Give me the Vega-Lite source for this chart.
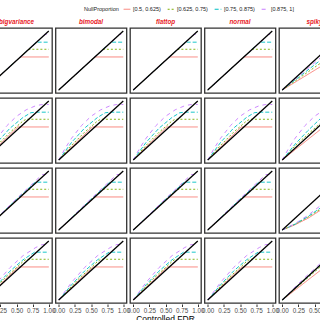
{
"$schema": "https://vega.github.io/schema/vega-lite/v6.json",
"padding": {"left": -22, "top": 5, "right": 0, "bottom": 2},
"title": {"text": "Controlled FDR", "orient": "bottom", "anchor": "middle", "fontSize": 8.5, "fontWeight": "normal", "color": "#000000", "offset": 1},
"data": {"values": [
{"m":"bigvariance","r":1,"s":"a","x":0,"y":0},{"m":"bigvariance","r":1,"s":"a","x":0.56,"y":0.56},{"m":"bigvariance","r":1,"s":"a","x":1,"y":0.56},
{"m":"bigvariance","r":1,"s":"b","x":0,"y":0},{"m":"bigvariance","r":1,"s":"b","x":0.69,"y":0.69},{"m":"bigvariance","r":1,"s":"b","x":1,"y":0.69},
{"m":"bigvariance","r":1,"s":"c","x":0,"y":0},{"m":"bigvariance","r":1,"s":"c","x":0.81,"y":0.81},{"m":"bigvariance","r":1,"s":"c","x":1,"y":0.81},
{"m":"bigvariance","r":1,"s":"d","x":0,"y":0},{"m":"bigvariance","r":1,"s":"d","x":0.94,"y":0.94},{"m":"bigvariance","r":1,"s":"d","x":1,"y":0.94},
{"m":"bigvariance","r":1,"s":"k","x":0,"y":0},{"m":"bigvariance","r":1,"s":"k","x":1,"y":1},
{"m":"bigvariance","r":2,"s":"a","x":0,"y":0},{"m":"bigvariance","r":2,"s":"a","x":0.25,"y":0.275},{"m":"bigvariance","r":2,"s":"a","x":0.52,"y":0.56},{"m":"bigvariance","r":2,"s":"a","x":1,"y":0.56},
{"m":"bigvariance","r":2,"s":"b","x":0,"y":0},{"m":"bigvariance","r":2,"s":"b","x":0.2,"y":0.25},{"m":"bigvariance","r":2,"s":"b","x":0.4,"y":0.47},{"m":"bigvariance","r":2,"s":"b","x":0.6,"y":0.66},{"m":"bigvariance","r":2,"s":"b","x":0.65,"y":0.69},{"m":"bigvariance","r":2,"s":"b","x":1,"y":0.69},
{"m":"bigvariance","r":2,"s":"c","x":0,"y":0},{"m":"bigvariance","r":2,"s":"c","x":0.2,"y":0.3},{"m":"bigvariance","r":2,"s":"c","x":0.4,"y":0.54},{"m":"bigvariance","r":2,"s":"c","x":0.6,"y":0.72},{"m":"bigvariance","r":2,"s":"c","x":0.72,"y":0.8},{"m":"bigvariance","r":2,"s":"c","x":0.8,"y":0.81},{"m":"bigvariance","r":2,"s":"c","x":1,"y":0.81},
{"m":"bigvariance","r":2,"s":"d","x":0,"y":0},{"m":"bigvariance","r":2,"s":"d","x":0.1,"y":0.2},{"m":"bigvariance","r":2,"s":"d","x":0.2,"y":0.37},{"m":"bigvariance","r":2,"s":"d","x":0.35,"y":0.58},{"m":"bigvariance","r":2,"s":"d","x":0.5,"y":0.74},{"m":"bigvariance","r":2,"s":"d","x":0.65,"y":0.85},{"m":"bigvariance","r":2,"s":"d","x":0.8,"y":0.92},{"m":"bigvariance","r":2,"s":"d","x":0.9,"y":0.94},{"m":"bigvariance","r":2,"s":"d","x":1,"y":0.94},
{"m":"bigvariance","r":2,"s":"k","x":0,"y":0},{"m":"bigvariance","r":2,"s":"k","x":1,"y":1},
{"m":"bigvariance","r":3,"s":"a","x":0,"y":0},{"m":"bigvariance","r":3,"s":"a","x":0.5,"y":0.5},{"m":"bigvariance","r":3,"s":"a","x":0.56,"y":0.56},{"m":"bigvariance","r":3,"s":"a","x":1,"y":0.56},
{"m":"bigvariance","r":3,"s":"b","x":0,"y":0},{"m":"bigvariance","r":3,"s":"b","x":0.5,"y":0.51},{"m":"bigvariance","r":3,"s":"b","x":0.68,"y":0.69},{"m":"bigvariance","r":3,"s":"b","x":1,"y":0.69},
{"m":"bigvariance","r":3,"s":"c","x":0,"y":0},{"m":"bigvariance","r":3,"s":"c","x":0.5,"y":0.52},{"m":"bigvariance","r":3,"s":"c","x":0.79,"y":0.81},{"m":"bigvariance","r":3,"s":"c","x":1,"y":0.81},
{"m":"bigvariance","r":3,"s":"d","x":0,"y":0},{"m":"bigvariance","r":3,"s":"d","x":0.5,"y":0.53},{"m":"bigvariance","r":3,"s":"d","x":0.9,"y":0.94},{"m":"bigvariance","r":3,"s":"d","x":1,"y":0.94},
{"m":"bigvariance","r":3,"s":"k","x":0,"y":0},{"m":"bigvariance","r":3,"s":"k","x":1,"y":1},
{"m":"bigvariance","r":4,"s":"a","x":0,"y":0},{"m":"bigvariance","r":4,"s":"a","x":0.3,"y":0.32},{"m":"bigvariance","r":4,"s":"a","x":0.53,"y":0.56},{"m":"bigvariance","r":4,"s":"a","x":1,"y":0.56},
{"m":"bigvariance","r":4,"s":"b","x":0,"y":0},{"m":"bigvariance","r":4,"s":"b","x":0.3,"y":0.35},{"m":"bigvariance","r":4,"s":"b","x":0.6,"y":0.65},{"m":"bigvariance","r":4,"s":"b","x":0.65,"y":0.69},{"m":"bigvariance","r":4,"s":"b","x":1,"y":0.69},
{"m":"bigvariance","r":4,"s":"c","x":0,"y":0},{"m":"bigvariance","r":4,"s":"c","x":0.2,"y":0.26},{"m":"bigvariance","r":4,"s":"c","x":0.4,"y":0.49},{"m":"bigvariance","r":4,"s":"c","x":0.6,"y":0.68},{"m":"bigvariance","r":4,"s":"c","x":0.78,"y":0.81},{"m":"bigvariance","r":4,"s":"c","x":1,"y":0.81},
{"m":"bigvariance","r":4,"s":"d","x":0,"y":0},{"m":"bigvariance","r":4,"s":"d","x":0.2,"y":0.3},{"m":"bigvariance","r":4,"s":"d","x":0.4,"y":0.55},{"m":"bigvariance","r":4,"s":"d","x":0.6,"y":0.75},{"m":"bigvariance","r":4,"s":"d","x":0.8,"y":0.89},{"m":"bigvariance","r":4,"s":"d","x":0.9,"y":0.94},{"m":"bigvariance","r":4,"s":"d","x":1,"y":0.94},
{"m":"bigvariance","r":4,"s":"k","x":0,"y":0},{"m":"bigvariance","r":4,"s":"k","x":1,"y":1},
{"m":"bimodal","r":1,"s":"a","x":0,"y":0},{"m":"bimodal","r":1,"s":"a","x":0.56,"y":0.56},{"m":"bimodal","r":1,"s":"a","x":1,"y":0.56},
{"m":"bimodal","r":1,"s":"b","x":0,"y":0},{"m":"bimodal","r":1,"s":"b","x":0.69,"y":0.69},{"m":"bimodal","r":1,"s":"b","x":1,"y":0.69},
{"m":"bimodal","r":1,"s":"c","x":0,"y":0},{"m":"bimodal","r":1,"s":"c","x":0.81,"y":0.81},{"m":"bimodal","r":1,"s":"c","x":1,"y":0.81},
{"m":"bimodal","r":1,"s":"d","x":0,"y":0},{"m":"bimodal","r":1,"s":"d","x":0.94,"y":0.94},{"m":"bimodal","r":1,"s":"d","x":1,"y":0.94},
{"m":"bimodal","r":1,"s":"k","x":0,"y":0},{"m":"bimodal","r":1,"s":"k","x":1,"y":1},
{"m":"bimodal","r":2,"s":"a","x":0,"y":0},{"m":"bimodal","r":2,"s":"a","x":0.25,"y":0.275},{"m":"bimodal","r":2,"s":"a","x":0.52,"y":0.56},{"m":"bimodal","r":2,"s":"a","x":1,"y":0.56},
{"m":"bimodal","r":2,"s":"b","x":0,"y":0},{"m":"bimodal","r":2,"s":"b","x":0.2,"y":0.25},{"m":"bimodal","r":2,"s":"b","x":0.4,"y":0.47},{"m":"bimodal","r":2,"s":"b","x":0.6,"y":0.66},{"m":"bimodal","r":2,"s":"b","x":0.65,"y":0.69},{"m":"bimodal","r":2,"s":"b","x":1,"y":0.69},
{"m":"bimodal","r":2,"s":"c","x":0,"y":0},{"m":"bimodal","r":2,"s":"c","x":0.2,"y":0.3},{"m":"bimodal","r":2,"s":"c","x":0.4,"y":0.54},{"m":"bimodal","r":2,"s":"c","x":0.6,"y":0.72},{"m":"bimodal","r":2,"s":"c","x":0.72,"y":0.8},{"m":"bimodal","r":2,"s":"c","x":0.8,"y":0.81},{"m":"bimodal","r":2,"s":"c","x":1,"y":0.81},
{"m":"bimodal","r":2,"s":"d","x":0,"y":0},{"m":"bimodal","r":2,"s":"d","x":0.1,"y":0.2},{"m":"bimodal","r":2,"s":"d","x":0.2,"y":0.37},{"m":"bimodal","r":2,"s":"d","x":0.35,"y":0.58},{"m":"bimodal","r":2,"s":"d","x":0.5,"y":0.74},{"m":"bimodal","r":2,"s":"d","x":0.65,"y":0.85},{"m":"bimodal","r":2,"s":"d","x":0.8,"y":0.92},{"m":"bimodal","r":2,"s":"d","x":0.9,"y":0.94},{"m":"bimodal","r":2,"s":"d","x":1,"y":0.94},
{"m":"bimodal","r":2,"s":"k","x":0,"y":0},{"m":"bimodal","r":2,"s":"k","x":1,"y":1},
{"m":"bimodal","r":3,"s":"a","x":0,"y":0},{"m":"bimodal","r":3,"s":"a","x":0.5,"y":0.5},{"m":"bimodal","r":3,"s":"a","x":0.56,"y":0.56},{"m":"bimodal","r":3,"s":"a","x":1,"y":0.56},
{"m":"bimodal","r":3,"s":"b","x":0,"y":0},{"m":"bimodal","r":3,"s":"b","x":0.5,"y":0.51},{"m":"bimodal","r":3,"s":"b","x":0.68,"y":0.69},{"m":"bimodal","r":3,"s":"b","x":1,"y":0.69},
{"m":"bimodal","r":3,"s":"c","x":0,"y":0},{"m":"bimodal","r":3,"s":"c","x":0.5,"y":0.52},{"m":"bimodal","r":3,"s":"c","x":0.79,"y":0.81},{"m":"bimodal","r":3,"s":"c","x":1,"y":0.81},
{"m":"bimodal","r":3,"s":"d","x":0,"y":0},{"m":"bimodal","r":3,"s":"d","x":0.5,"y":0.53},{"m":"bimodal","r":3,"s":"d","x":0.9,"y":0.94},{"m":"bimodal","r":3,"s":"d","x":1,"y":0.94},
{"m":"bimodal","r":3,"s":"k","x":0,"y":0},{"m":"bimodal","r":3,"s":"k","x":1,"y":1},
{"m":"bimodal","r":4,"s":"a","x":0,"y":0},{"m":"bimodal","r":4,"s":"a","x":0.3,"y":0.32},{"m":"bimodal","r":4,"s":"a","x":0.53,"y":0.56},{"m":"bimodal","r":4,"s":"a","x":1,"y":0.56},
{"m":"bimodal","r":4,"s":"b","x":0,"y":0},{"m":"bimodal","r":4,"s":"b","x":0.3,"y":0.35},{"m":"bimodal","r":4,"s":"b","x":0.6,"y":0.65},{"m":"bimodal","r":4,"s":"b","x":0.65,"y":0.69},{"m":"bimodal","r":4,"s":"b","x":1,"y":0.69},
{"m":"bimodal","r":4,"s":"c","x":0,"y":0},{"m":"bimodal","r":4,"s":"c","x":0.2,"y":0.26},{"m":"bimodal","r":4,"s":"c","x":0.4,"y":0.49},{"m":"bimodal","r":4,"s":"c","x":0.6,"y":0.68},{"m":"bimodal","r":4,"s":"c","x":0.78,"y":0.81},{"m":"bimodal","r":4,"s":"c","x":1,"y":0.81},
{"m":"bimodal","r":4,"s":"d","x":0,"y":0},{"m":"bimodal","r":4,"s":"d","x":0.2,"y":0.3},{"m":"bimodal","r":4,"s":"d","x":0.4,"y":0.55},{"m":"bimodal","r":4,"s":"d","x":0.6,"y":0.75},{"m":"bimodal","r":4,"s":"d","x":0.8,"y":0.89},{"m":"bimodal","r":4,"s":"d","x":0.9,"y":0.94},{"m":"bimodal","r":4,"s":"d","x":1,"y":0.94},
{"m":"bimodal","r":4,"s":"k","x":0,"y":0},{"m":"bimodal","r":4,"s":"k","x":1,"y":1},
{"m":"flattop","r":1,"s":"a","x":0,"y":0},{"m":"flattop","r":1,"s":"a","x":0.56,"y":0.56},{"m":"flattop","r":1,"s":"a","x":1,"y":0.56},
{"m":"flattop","r":1,"s":"b","x":0,"y":0},{"m":"flattop","r":1,"s":"b","x":0.69,"y":0.69},{"m":"flattop","r":1,"s":"b","x":1,"y":0.69},
{"m":"flattop","r":1,"s":"c","x":0,"y":0},{"m":"flattop","r":1,"s":"c","x":0.81,"y":0.81},{"m":"flattop","r":1,"s":"c","x":1,"y":0.81},
{"m":"flattop","r":1,"s":"d","x":0,"y":0},{"m":"flattop","r":1,"s":"d","x":0.94,"y":0.94},{"m":"flattop","r":1,"s":"d","x":1,"y":0.94},
{"m":"flattop","r":1,"s":"k","x":0,"y":0},{"m":"flattop","r":1,"s":"k","x":1,"y":1},
{"m":"flattop","r":2,"s":"a","x":0,"y":0},{"m":"flattop","r":2,"s":"a","x":0.25,"y":0.275},{"m":"flattop","r":2,"s":"a","x":0.52,"y":0.56},{"m":"flattop","r":2,"s":"a","x":1,"y":0.56},
{"m":"flattop","r":2,"s":"b","x":0,"y":0},{"m":"flattop","r":2,"s":"b","x":0.2,"y":0.25},{"m":"flattop","r":2,"s":"b","x":0.4,"y":0.47},{"m":"flattop","r":2,"s":"b","x":0.6,"y":0.66},{"m":"flattop","r":2,"s":"b","x":0.65,"y":0.69},{"m":"flattop","r":2,"s":"b","x":1,"y":0.69},
{"m":"flattop","r":2,"s":"c","x":0,"y":0},{"m":"flattop","r":2,"s":"c","x":0.2,"y":0.3},{"m":"flattop","r":2,"s":"c","x":0.4,"y":0.54},{"m":"flattop","r":2,"s":"c","x":0.6,"y":0.72},{"m":"flattop","r":2,"s":"c","x":0.72,"y":0.8},{"m":"flattop","r":2,"s":"c","x":0.8,"y":0.81},{"m":"flattop","r":2,"s":"c","x":1,"y":0.81},
{"m":"flattop","r":2,"s":"d","x":0,"y":0},{"m":"flattop","r":2,"s":"d","x":0.1,"y":0.2},{"m":"flattop","r":2,"s":"d","x":0.2,"y":0.37},{"m":"flattop","r":2,"s":"d","x":0.35,"y":0.58},{"m":"flattop","r":2,"s":"d","x":0.5,"y":0.74},{"m":"flattop","r":2,"s":"d","x":0.65,"y":0.85},{"m":"flattop","r":2,"s":"d","x":0.8,"y":0.92},{"m":"flattop","r":2,"s":"d","x":0.9,"y":0.94},{"m":"flattop","r":2,"s":"d","x":1,"y":0.94},
{"m":"flattop","r":2,"s":"k","x":0,"y":0},{"m":"flattop","r":2,"s":"k","x":1,"y":1},
{"m":"flattop","r":3,"s":"a","x":0,"y":0},{"m":"flattop","r":3,"s":"a","x":0.5,"y":0.5},{"m":"flattop","r":3,"s":"a","x":0.56,"y":0.56},{"m":"flattop","r":3,"s":"a","x":1,"y":0.56},
{"m":"flattop","r":3,"s":"b","x":0,"y":0},{"m":"flattop","r":3,"s":"b","x":0.5,"y":0.51},{"m":"flattop","r":3,"s":"b","x":0.68,"y":0.69},{"m":"flattop","r":3,"s":"b","x":1,"y":0.69},
{"m":"flattop","r":3,"s":"c","x":0,"y":0},{"m":"flattop","r":3,"s":"c","x":0.5,"y":0.52},{"m":"flattop","r":3,"s":"c","x":0.79,"y":0.81},{"m":"flattop","r":3,"s":"c","x":1,"y":0.81},
{"m":"flattop","r":3,"s":"d","x":0,"y":0},{"m":"flattop","r":3,"s":"d","x":0.5,"y":0.53},{"m":"flattop","r":3,"s":"d","x":0.9,"y":0.94},{"m":"flattop","r":3,"s":"d","x":1,"y":0.94},
{"m":"flattop","r":3,"s":"k","x":0,"y":0},{"m":"flattop","r":3,"s":"k","x":1,"y":1},
{"m":"flattop","r":4,"s":"a","x":0,"y":0},{"m":"flattop","r":4,"s":"a","x":0.3,"y":0.32},{"m":"flattop","r":4,"s":"a","x":0.53,"y":0.56},{"m":"flattop","r":4,"s":"a","x":1,"y":0.56},
{"m":"flattop","r":4,"s":"b","x":0,"y":0},{"m":"flattop","r":4,"s":"b","x":0.3,"y":0.35},{"m":"flattop","r":4,"s":"b","x":0.6,"y":0.65},{"m":"flattop","r":4,"s":"b","x":0.65,"y":0.69},{"m":"flattop","r":4,"s":"b","x":1,"y":0.69},
{"m":"flattop","r":4,"s":"c","x":0,"y":0},{"m":"flattop","r":4,"s":"c","x":0.2,"y":0.26},{"m":"flattop","r":4,"s":"c","x":0.4,"y":0.49},{"m":"flattop","r":4,"s":"c","x":0.6,"y":0.68},{"m":"flattop","r":4,"s":"c","x":0.78,"y":0.81},{"m":"flattop","r":4,"s":"c","x":1,"y":0.81},
{"m":"flattop","r":4,"s":"d","x":0,"y":0},{"m":"flattop","r":4,"s":"d","x":0.2,"y":0.3},{"m":"flattop","r":4,"s":"d","x":0.4,"y":0.55},{"m":"flattop","r":4,"s":"d","x":0.6,"y":0.75},{"m":"flattop","r":4,"s":"d","x":0.8,"y":0.89},{"m":"flattop","r":4,"s":"d","x":0.9,"y":0.94},{"m":"flattop","r":4,"s":"d","x":1,"y":0.94},
{"m":"flattop","r":4,"s":"k","x":0,"y":0},{"m":"flattop","r":4,"s":"k","x":1,"y":1},
{"m":"normal","r":1,"s":"a","x":0,"y":0},{"m":"normal","r":1,"s":"a","x":0.56,"y":0.56},{"m":"normal","r":1,"s":"a","x":1,"y":0.56},
{"m":"normal","r":1,"s":"b","x":0,"y":0},{"m":"normal","r":1,"s":"b","x":0.69,"y":0.69},{"m":"normal","r":1,"s":"b","x":1,"y":0.69},
{"m":"normal","r":1,"s":"c","x":0,"y":0},{"m":"normal","r":1,"s":"c","x":0.81,"y":0.81},{"m":"normal","r":1,"s":"c","x":1,"y":0.81},
{"m":"normal","r":1,"s":"d","x":0,"y":0},{"m":"normal","r":1,"s":"d","x":0.94,"y":0.94},{"m":"normal","r":1,"s":"d","x":1,"y":0.94},
{"m":"normal","r":1,"s":"k","x":0,"y":0},{"m":"normal","r":1,"s":"k","x":1,"y":1},
{"m":"normal","r":2,"s":"a","x":0,"y":0},{"m":"normal","r":2,"s":"a","x":0.25,"y":0.275},{"m":"normal","r":2,"s":"a","x":0.52,"y":0.56},{"m":"normal","r":2,"s":"a","x":1,"y":0.56},
{"m":"normal","r":2,"s":"b","x":0,"y":0},{"m":"normal","r":2,"s":"b","x":0.2,"y":0.25},{"m":"normal","r":2,"s":"b","x":0.4,"y":0.47},{"m":"normal","r":2,"s":"b","x":0.6,"y":0.66},{"m":"normal","r":2,"s":"b","x":0.65,"y":0.69},{"m":"normal","r":2,"s":"b","x":1,"y":0.69},
{"m":"normal","r":2,"s":"c","x":0,"y":0},{"m":"normal","r":2,"s":"c","x":0.2,"y":0.3},{"m":"normal","r":2,"s":"c","x":0.4,"y":0.54},{"m":"normal","r":2,"s":"c","x":0.6,"y":0.72},{"m":"normal","r":2,"s":"c","x":0.72,"y":0.8},{"m":"normal","r":2,"s":"c","x":0.8,"y":0.81},{"m":"normal","r":2,"s":"c","x":1,"y":0.81},
{"m":"normal","r":2,"s":"d","x":0,"y":0},{"m":"normal","r":2,"s":"d","x":0.1,"y":0.2},{"m":"normal","r":2,"s":"d","x":0.2,"y":0.37},{"m":"normal","r":2,"s":"d","x":0.35,"y":0.58},{"m":"normal","r":2,"s":"d","x":0.5,"y":0.74},{"m":"normal","r":2,"s":"d","x":0.65,"y":0.85},{"m":"normal","r":2,"s":"d","x":0.8,"y":0.92},{"m":"normal","r":2,"s":"d","x":0.9,"y":0.94},{"m":"normal","r":2,"s":"d","x":1,"y":0.94},
{"m":"normal","r":2,"s":"k","x":0,"y":0},{"m":"normal","r":2,"s":"k","x":1,"y":1},
{"m":"normal","r":3,"s":"a","x":0,"y":0},{"m":"normal","r":3,"s":"a","x":0.5,"y":0.5},{"m":"normal","r":3,"s":"a","x":0.56,"y":0.56},{"m":"normal","r":3,"s":"a","x":1,"y":0.56},
{"m":"normal","r":3,"s":"b","x":0,"y":0},{"m":"normal","r":3,"s":"b","x":0.5,"y":0.51},{"m":"normal","r":3,"s":"b","x":0.68,"y":0.69},{"m":"normal","r":3,"s":"b","x":1,"y":0.69},
{"m":"normal","r":3,"s":"c","x":0,"y":0},{"m":"normal","r":3,"s":"c","x":0.5,"y":0.52},{"m":"normal","r":3,"s":"c","x":0.79,"y":0.81},{"m":"normal","r":3,"s":"c","x":1,"y":0.81},
{"m":"normal","r":3,"s":"d","x":0,"y":0},{"m":"normal","r":3,"s":"d","x":0.5,"y":0.53},{"m":"normal","r":3,"s":"d","x":0.9,"y":0.94},{"m":"normal","r":3,"s":"d","x":1,"y":0.94},
{"m":"normal","r":3,"s":"k","x":0,"y":0},{"m":"normal","r":3,"s":"k","x":1,"y":1},
{"m":"normal","r":4,"s":"a","x":0,"y":0},{"m":"normal","r":4,"s":"a","x":0.3,"y":0.32},{"m":"normal","r":4,"s":"a","x":0.53,"y":0.56},{"m":"normal","r":4,"s":"a","x":1,"y":0.56},
{"m":"normal","r":4,"s":"b","x":0,"y":0},{"m":"normal","r":4,"s":"b","x":0.3,"y":0.35},{"m":"normal","r":4,"s":"b","x":0.6,"y":0.65},{"m":"normal","r":4,"s":"b","x":0.65,"y":0.69},{"m":"normal","r":4,"s":"b","x":1,"y":0.69},
{"m":"normal","r":4,"s":"c","x":0,"y":0},{"m":"normal","r":4,"s":"c","x":0.2,"y":0.26},{"m":"normal","r":4,"s":"c","x":0.4,"y":0.49},{"m":"normal","r":4,"s":"c","x":0.6,"y":0.68},{"m":"normal","r":4,"s":"c","x":0.78,"y":0.81},{"m":"normal","r":4,"s":"c","x":1,"y":0.81},
{"m":"normal","r":4,"s":"d","x":0,"y":0},{"m":"normal","r":4,"s":"d","x":0.2,"y":0.3},{"m":"normal","r":4,"s":"d","x":0.4,"y":0.55},{"m":"normal","r":4,"s":"d","x":0.6,"y":0.75},{"m":"normal","r":4,"s":"d","x":0.8,"y":0.89},{"m":"normal","r":4,"s":"d","x":0.9,"y":0.94},{"m":"normal","r":4,"s":"d","x":1,"y":0.94},
{"m":"normal","r":4,"s":"k","x":0,"y":0},{"m":"normal","r":4,"s":"k","x":1,"y":1},
{"m":"spiky","r":1,"s":"a","x":0,"y":0},{"m":"spiky","r":1,"s":"a","x":0.84,"y":0.56},{"m":"spiky","r":1,"s":"a","x":1,"y":0.56},
{"m":"spiky","r":1,"s":"b","x":0,"y":0},{"m":"spiky","r":1,"s":"b","x":0.9,"y":0.69},{"m":"spiky","r":1,"s":"b","x":1,"y":0.69},
{"m":"spiky","r":1,"s":"c","x":0,"y":0},{"m":"spiky","r":1,"s":"c","x":0.95,"y":0.81},{"m":"spiky","r":1,"s":"c","x":1,"y":0.81},
{"m":"spiky","r":1,"s":"d","x":0,"y":0},{"m":"spiky","r":1,"s":"d","x":1,"y":0.92},
{"m":"spiky","r":1,"s":"k","x":0,"y":0},{"m":"spiky","r":1,"s":"k","x":1,"y":1},
{"m":"spiky","r":2,"s":"a","x":0,"y":0},{"m":"spiky","r":2,"s":"a","x":0.4,"y":0.35},{"m":"spiky","r":2,"s":"a","x":0.64,"y":0.56},{"m":"spiky","r":2,"s":"a","x":1,"y":0.56},
{"m":"spiky","r":2,"s":"b","x":0,"y":0},{"m":"spiky","r":2,"s":"b","x":0.2,"y":0.24},{"m":"spiky","r":2,"s":"b","x":0.4,"y":0.44},{"m":"spiky","r":2,"s":"b","x":0.6,"y":0.63},{"m":"spiky","r":2,"s":"b","x":0.7,"y":0.69},{"m":"spiky","r":2,"s":"b","x":1,"y":0.69},
{"m":"spiky","r":2,"s":"c","x":0,"y":0},{"m":"spiky","r":2,"s":"c","x":0.2,"y":0.27},{"m":"spiky","r":2,"s":"c","x":0.4,"y":0.5},{"m":"spiky","r":2,"s":"c","x":0.6,"y":0.71},{"m":"spiky","r":2,"s":"c","x":0.7,"y":0.78},{"m":"spiky","r":2,"s":"c","x":0.8,"y":0.81},{"m":"spiky","r":2,"s":"c","x":1,"y":0.81},
{"m":"spiky","r":2,"s":"d","x":0,"y":0},{"m":"spiky","r":2,"s":"d","x":0.1,"y":0.2},{"m":"spiky","r":2,"s":"d","x":0.2,"y":0.37},{"m":"spiky","r":2,"s":"d","x":0.35,"y":0.58},{"m":"spiky","r":2,"s":"d","x":0.5,"y":0.74},{"m":"spiky","r":2,"s":"d","x":0.65,"y":0.85},{"m":"spiky","r":2,"s":"d","x":0.8,"y":0.92},{"m":"spiky","r":2,"s":"d","x":0.9,"y":0.94},{"m":"spiky","r":2,"s":"d","x":1,"y":0.94},
{"m":"spiky","r":2,"s":"k","x":0,"y":0},{"m":"spiky","r":2,"s":"k","x":1,"y":1},
{"m":"spiky","r":3,"s":"a","x":0,"y":0},{"m":"spiky","r":3,"s":"a","x":0.2,"y":0.09},{"m":"spiky","r":3,"s":"a","x":0.4,"y":0.2},{"m":"spiky","r":3,"s":"a","x":0.6,"y":0.34},{"m":"spiky","r":3,"s":"a","x":0.8,"y":0.49},{"m":"spiky","r":3,"s":"a","x":0.9,"y":0.56},{"m":"spiky","r":3,"s":"a","x":1,"y":0.56},
{"m":"spiky","r":3,"s":"b","x":0,"y":0},{"m":"spiky","r":3,"s":"b","x":0.2,"y":0.1},{"m":"spiky","r":3,"s":"b","x":0.4,"y":0.22},{"m":"spiky","r":3,"s":"b","x":0.6,"y":0.36},{"m":"spiky","r":3,"s":"b","x":0.8,"y":0.54},{"m":"spiky","r":3,"s":"b","x":1,"y":0.69},
{"m":"spiky","r":3,"s":"c","x":0,"y":0},{"m":"spiky","r":3,"s":"c","x":0.2,"y":0.1},{"m":"spiky","r":3,"s":"c","x":0.4,"y":0.23},{"m":"spiky","r":3,"s":"c","x":0.6,"y":0.38},{"m":"spiky","r":3,"s":"c","x":0.8,"y":0.57},{"m":"spiky","r":3,"s":"c","x":1,"y":0.78},
{"m":"spiky","r":3,"s":"d","x":0,"y":0},{"m":"spiky","r":3,"s":"d","x":0.2,"y":0.11},{"m":"spiky","r":3,"s":"d","x":0.4,"y":0.25},{"m":"spiky","r":3,"s":"d","x":0.6,"y":0.42},{"m":"spiky","r":3,"s":"d","x":0.8,"y":0.63},{"m":"spiky","r":3,"s":"d","x":1,"y":0.86},
{"m":"spiky","r":3,"s":"k","x":0,"y":0},{"m":"spiky","r":3,"s":"k","x":1,"y":1},
{"m":"spiky","r":4,"s":"a","x":0,"y":0},{"m":"spiky","r":4,"s":"a","x":0.6,"y":0.51},{"m":"spiky","r":4,"s":"a","x":0.66,"y":0.56},{"m":"spiky","r":4,"s":"a","x":1,"y":0.56},
{"m":"spiky","r":4,"s":"b","x":0,"y":0},{"m":"spiky","r":4,"s":"b","x":0.6,"y":0.57},{"m":"spiky","r":4,"s":"b","x":0.73,"y":0.69},{"m":"spiky","r":4,"s":"b","x":1,"y":0.69},
{"m":"spiky","r":4,"s":"c","x":0,"y":0},{"m":"spiky","r":4,"s":"c","x":0.81,"y":0.81},{"m":"spiky","r":4,"s":"c","x":1,"y":0.81},
{"m":"spiky","r":4,"s":"d","x":0,"y":0},{"m":"spiky","r":4,"s":"d","x":0.3,"y":0.33},{"m":"spiky","r":4,"s":"d","x":0.6,"y":0.63},{"m":"spiky","r":4,"s":"d","x":0.9,"y":0.94},{"m":"spiky","r":4,"s":"d","x":1,"y":0.94},
{"m":"spiky","r":4,"s":"k","x":0,"y":0},{"m":"spiky","r":4,"s":"k","x":1,"y":1}
]},
"facet": {
  "column": {"field": "m", "type": "nominal", "title": null, "header": {"labelOrient": "top", "labelColor": "#E8201E", "labelFontStyle": "italic", "labelFontWeight": "bold", "labelFontSize": 6.3, "labelPadding": 1.5}},
  "row": {"field": "r", "type": "ordinal", "header": null}
},
"spacing": {"row": 3, "column": 1.5},
"spec": {
  "width": 71,
  "height": 65,
  "layer": [
    {
      "transform": [{"filter": "datum.s != 'k'"}],
      "mark": {"type": "line", "strokeWidth": 0.9},
      "encoding": {
        "x": {"field": "x", "type": "quantitative", "scale": {"domain": [-0.05, 1.05], "nice": false, "zero": false},
              "axis": {"values": [0, 0.25, 0.5, 0.75, 1], "format": ".2f", "title": null}},
        "y": {"field": "y", "type": "quantitative", "scale": {"domain": [-0.05, 1.05], "nice": false, "zero": false}, "axis": null},
        "color": {"field": "s", "type": "nominal", "scale": {"domain": ["a", "b", "c", "d"], "range": ["#F8766D", "#7CAE00", "#00BFC4", "#C77CFF"]},
                  "legend": {"title": "NullProportion", "orient": "none", "legendX": 103, "legendY": -23, "direction": "horizontal", "titleOrient": "left", "labelExpr": "datum.value == 'a' ? '[0.5, 0.625)' : datum.value == 'b' ? '[0.625, 0.75)' : datum.value == 'c' ? '[0.75, 0.875)' : '[0.875, 1]'", "symbolType": "stroke", "symbolStrokeWidth": 1, "symbolSize": 45, "labelOffset": 2, "labelFontSize": 5.5, "titleFontSize": 5.5, "titleFontWeight": "normal", "labelColor": "#222222", "titleColor": "#222222", "columnPadding": 4, "titlePadding": 4}},
        "strokeDash": {"field": "s", "type": "nominal", "scale": {"domain": ["a", "b", "c", "d"], "range": [[1, 0], [2, 2], [4, 2], [4, 4]]}}
      }
    },
    {
      "transform": [{"filter": "datum.s == 'k'"}],
      "mark": {"type": "line", "color": "#000000", "strokeWidth": 1.3},
      "encoding": {
        "x": {"field": "x", "type": "quantitative", "axis": {"values": [0, 0.25, 0.5, 0.75, 1], "format": ".2f", "title": null}},
        "y": {"field": "y", "type": "quantitative", "axis": null}
      }
    }
  ]
},
"config": {
  "font": "Liberation Sans",
  "view": {"stroke": "#333333", "strokeWidth": 1.3},
  "axisX": {"domain": false, "grid": false, "labelFlush": false, "labelOverlap": false, "labelBound": false, "tickSize": 2.5, "tickColor": "#333333", "labelFontSize": 6.3, "labelColor": "#4D4D4D", "labelPadding": 1}
}
}
